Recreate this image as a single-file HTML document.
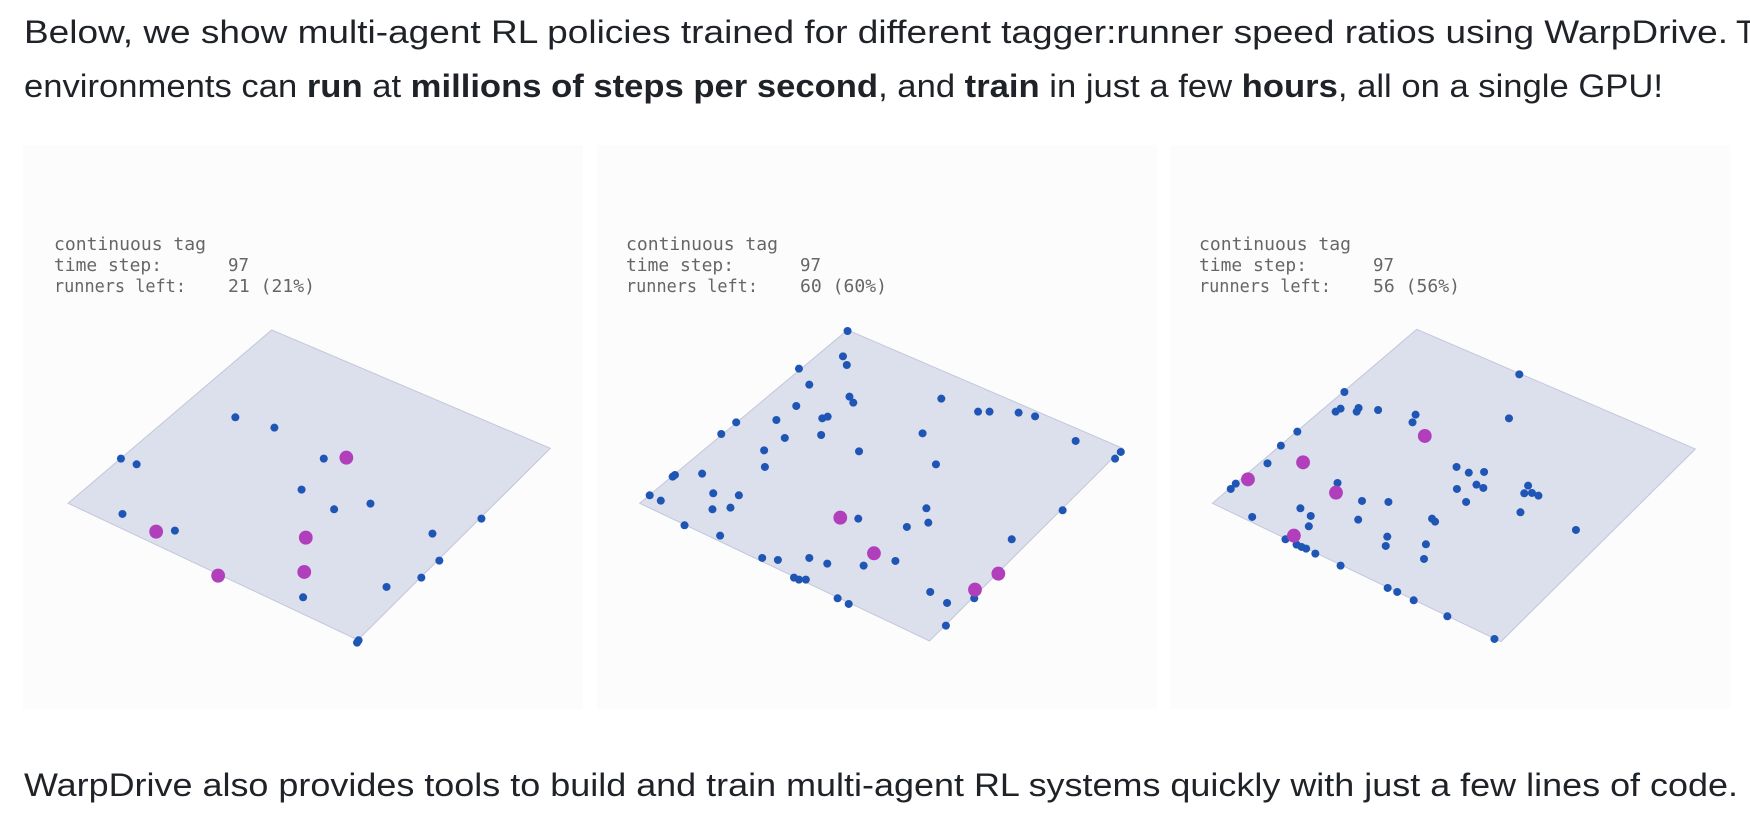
<!DOCTYPE html>
<html><head><meta charset="utf-8"><style>
html,body{margin:0;padding:0;background:#fff;width:1750px;height:814px;overflow:hidden}
svg{display:block}
.t{font-family:"Liberation Sans",sans-serif;font-size:32px;fill:#1f2328}
.m{font-family:"DejaVu Sans Mono","Liberation Mono",monospace;font-size:18px;fill:#666;white-space:pre}
</style></head><body>
<svg width="1750" height="814" viewBox="0 0 1750 814" xmlns="http://www.w3.org/2000/svg">
<text class="t" x="24" y="43" textLength="1704" lengthAdjust="spacingAndGlyphs">Below, we show multi-agent RL policies trained for different tagger:runner speed ratios using WarpDrive.</text>
<text class="t" x="1736" y="43">These</text>
<text class="t" x="24" y="97" textLength="1639" lengthAdjust="spacingAndGlyphs">environments can <tspan font-weight="bold">run</tspan> at <tspan font-weight="bold">millions of steps per second</tspan>, and <tspan font-weight="bold">train</tspan> in just a few <tspan font-weight="bold">hours</tspan>, all on a single GPU!</text>
<text class="t" x="24" y="796" textLength="1714" lengthAdjust="spacingAndGlyphs">WarpDrive also provides tools to build and train multi-agent RL systems quickly with just a few lines of code.</text>

<rect x="23" y="145" width="560" height="564" fill="#fcfcfc"/>
<rect x="597" y="145" width="560" height="564" fill="#fcfcfc"/>
<rect x="1170" y="145" width="560" height="564" fill="#fcfcfc"/>

<text class="m" x="54" y="250" textLength="152" lengthAdjust="spacingAndGlyphs">continuous tag</text>
<text class="m" x="54" y="271" textLength="108" lengthAdjust="spacingAndGlyphs">time step:</text>
<text class="m" x="54" y="292" textLength="132" lengthAdjust="spacingAndGlyphs">runners left:</text>
<text class="m" x="228" y="271" textLength="21" lengthAdjust="spacingAndGlyphs">97</text>
<text class="m" x="228" y="292" textLength="87" lengthAdjust="spacingAndGlyphs">21 (21%)</text>

<text class="m" x="626" y="250" textLength="152" lengthAdjust="spacingAndGlyphs">continuous tag</text>
<text class="m" x="626" y="271" textLength="108" lengthAdjust="spacingAndGlyphs">time step:</text>
<text class="m" x="626" y="292" textLength="132" lengthAdjust="spacingAndGlyphs">runners left:</text>
<text class="m" x="800" y="271" textLength="21" lengthAdjust="spacingAndGlyphs">97</text>
<text class="m" x="800" y="292" textLength="87" lengthAdjust="spacingAndGlyphs">60 (60%)</text>

<text class="m" x="1199" y="250" textLength="152" lengthAdjust="spacingAndGlyphs">continuous tag</text>
<text class="m" x="1199" y="271" textLength="108" lengthAdjust="spacingAndGlyphs">time step:</text>
<text class="m" x="1199" y="292" textLength="132" lengthAdjust="spacingAndGlyphs">runners left:</text>
<text class="m" x="1373" y="271" textLength="21" lengthAdjust="spacingAndGlyphs">97</text>
<text class="m" x="1373" y="292" textLength="87" lengthAdjust="spacingAndGlyphs">56 (56%)</text>

<g transform="translate(0,180) scale(0.3827,0.3333)">
<polygon points="710,450 1438,805 935,1380 178,970" fill="#dcdfec" stroke="#c3c8dc" stroke-width="3"/>
<g fill="#1f55b4">
<ellipse cx="615" cy="712" rx="10.5" ry="12"/><ellipse cx="717" cy="743" rx="10.5" ry="12"/><ellipse cx="316" cy="836" rx="10.5" ry="12"/><ellipse cx="357" cy="853" rx="10.5" ry="12"/><ellipse cx="846" cy="836" rx="10.5" ry="12"/><ellipse cx="788" cy="929" rx="10.5" ry="12"/><ellipse cx="873" cy="988" rx="10.5" ry="12"/><ellipse cx="968" cy="971" rx="10.5" ry="12"/><ellipse cx="320" cy="1002" rx="10.5" ry="12"/><ellipse cx="457" cy="1052" rx="10.5" ry="12"/><ellipse cx="1258" cy="1016" rx="10.5" ry="12"/><ellipse cx="1130" cy="1061" rx="10.5" ry="12"/><ellipse cx="1148" cy="1142" rx="10.5" ry="12"/><ellipse cx="1101" cy="1193" rx="10.5" ry="12"/><ellipse cx="1010" cy="1221" rx="10.5" ry="12"/><ellipse cx="792" cy="1252" rx="10.5" ry="12"/><ellipse cx="937" cy="1381" rx="10.5" ry="12"/><ellipse cx="933" cy="1388" rx="10.5" ry="12"/>
</g>
<g fill="#b13fbb">
<ellipse cx="905" cy="833" rx="18" ry="21"/><ellipse cx="408" cy="1055" rx="18" ry="21"/><ellipse cx="799" cy="1073" rx="18" ry="21"/><ellipse cx="570" cy="1187" rx="18" ry="21"/><ellipse cx="795" cy="1176" rx="18" ry="21"/>
</g></g>

<g transform="translate(590,280) scale(0.3827,0.3333)">
<polygon points="673,150 1392,505 887,1083 130,670" fill="#dcdfec" stroke="#c3c8dc" stroke-width="3"/>
<g fill="#1f55b4">
<ellipse cx="673" cy="153" rx="10.5" ry="12"/><ellipse cx="661" cy="229" rx="10.5" ry="12"/><ellipse cx="671" cy="255" rx="10.5" ry="12"/><ellipse cx="546" cy="266" rx="10.5" ry="12"/><ellipse cx="573" cy="314" rx="10.5" ry="12"/><ellipse cx="678" cy="350" rx="10.5" ry="12"/><ellipse cx="688" cy="368" rx="10.5" ry="12"/><ellipse cx="918" cy="356" rx="10.5" ry="12"/><ellipse cx="539" cy="378" rx="10.5" ry="12"/><ellipse cx="1014" cy="395" rx="10.5" ry="12"/><ellipse cx="1044" cy="395" rx="10.5" ry="12"/><ellipse cx="1120" cy="398" rx="10.5" ry="12"/><ellipse cx="1163" cy="409" rx="10.5" ry="12"/><ellipse cx="487" cy="420" rx="10.5" ry="12"/><ellipse cx="607" cy="415" rx="10.5" ry="12"/><ellipse cx="621" cy="410" rx="10.5" ry="12"/><ellipse cx="382" cy="427" rx="10.5" ry="12"/><ellipse cx="343" cy="462" rx="10.5" ry="12"/><ellipse cx="509" cy="474" rx="10.5" ry="12"/><ellipse cx="604" cy="465" rx="10.5" ry="12"/><ellipse cx="869" cy="460" rx="10.5" ry="12"/><ellipse cx="1269" cy="483" rx="10.5" ry="12"/><ellipse cx="1387" cy="516" rx="10.5" ry="12"/><ellipse cx="1372" cy="536" rx="10.5" ry="12"/><ellipse cx="455" cy="511" rx="10.5" ry="12"/><ellipse cx="703" cy="514" rx="10.5" ry="12"/><ellipse cx="457" cy="561" rx="10.5" ry="12"/><ellipse cx="904" cy="553" rx="10.5" ry="12"/><ellipse cx="216" cy="590" rx="10.5" ry="12"/><ellipse cx="222" cy="585" rx="10.5" ry="12"/><ellipse cx="293" cy="581" rx="10.5" ry="12"/><ellipse cx="156" cy="646" rx="10.5" ry="12"/><ellipse cx="185" cy="662" rx="10.5" ry="12"/><ellipse cx="322" cy="640" rx="10.5" ry="12"/><ellipse cx="389" cy="646" rx="10.5" ry="12"/><ellipse cx="320" cy="688" rx="10.5" ry="12"/><ellipse cx="367" cy="683" rx="10.5" ry="12"/><ellipse cx="879" cy="685" rx="10.5" ry="12"/><ellipse cx="884" cy="728" rx="10.5" ry="12"/><ellipse cx="1235" cy="691" rx="10.5" ry="12"/><ellipse cx="701" cy="716" rx="10.5" ry="12"/><ellipse cx="247" cy="736" rx="10.5" ry="12"/><ellipse cx="340" cy="767" rx="10.5" ry="12"/><ellipse cx="828" cy="741" rx="10.5" ry="12"/><ellipse cx="1102" cy="778" rx="10.5" ry="12"/><ellipse cx="450" cy="834" rx="10.5" ry="12"/><ellipse cx="491" cy="840" rx="10.5" ry="12"/><ellipse cx="573" cy="834" rx="10.5" ry="12"/><ellipse cx="620" cy="851" rx="10.5" ry="12"/><ellipse cx="715" cy="857" rx="10.5" ry="12"/><ellipse cx="798" cy="843" rx="10.5" ry="12"/><ellipse cx="533" cy="893" rx="10.5" ry="12"/><ellipse cx="546" cy="899" rx="10.5" ry="12"/><ellipse cx="564" cy="899" rx="10.5" ry="12"/><ellipse cx="889" cy="936" rx="10.5" ry="12"/><ellipse cx="647" cy="955" rx="10.5" ry="12"/><ellipse cx="676" cy="972" rx="10.5" ry="12"/><ellipse cx="933" cy="969" rx="10.5" ry="12"/><ellipse cx="1004" cy="955" rx="10.5" ry="12"/><ellipse cx="930" cy="1037" rx="10.5" ry="12"/>
</g>
<g fill="#b13fbb">
<ellipse cx="654" cy="713" rx="18" ry="21"/><ellipse cx="742" cy="820" rx="18" ry="21"/><ellipse cx="1067" cy="881" rx="18" ry="21"/><ellipse cx="1006" cy="929" rx="18" ry="21"/>
</g></g>

<g transform="translate(1150,280) scale(0.3827,0.3333)">
<polygon points="697,148 1425,507 917,1085 163,670" fill="#dcdfec" stroke="#c3c8dc" stroke-width="3"/>
<g fill="#1f55b4">
<ellipse cx="965" cy="283" rx="10.5" ry="12"/><ellipse cx="508" cy="336" rx="10.5" ry="12"/><ellipse cx="485" cy="395" rx="10.5" ry="12"/><ellipse cx="498" cy="386" rx="10.5" ry="12"/><ellipse cx="540" cy="395" rx="10.5" ry="12"/><ellipse cx="545" cy="384" rx="10.5" ry="12"/><ellipse cx="596" cy="390" rx="10.5" ry="12"/><ellipse cx="694" cy="404" rx="10.5" ry="12"/><ellipse cx="686" cy="427" rx="10.5" ry="12"/><ellipse cx="938" cy="415" rx="10.5" ry="12"/><ellipse cx="385" cy="455" rx="10.5" ry="12"/><ellipse cx="342" cy="497" rx="10.5" ry="12"/><ellipse cx="307" cy="550" rx="10.5" ry="12"/><ellipse cx="801" cy="561" rx="10.5" ry="12"/><ellipse cx="833" cy="578" rx="10.5" ry="12"/><ellipse cx="873" cy="576" rx="10.5" ry="12"/><ellipse cx="224" cy="611" rx="10.5" ry="12"/><ellipse cx="211" cy="627" rx="10.5" ry="12"/><ellipse cx="490" cy="609" rx="10.5" ry="12"/><ellipse cx="802" cy="627" rx="10.5" ry="12"/><ellipse cx="853" cy="614" rx="10.5" ry="12"/><ellipse cx="871" cy="624" rx="10.5" ry="12"/><ellipse cx="988" cy="617" rx="10.5" ry="12"/><ellipse cx="978" cy="640" rx="10.5" ry="12"/><ellipse cx="998" cy="639" rx="10.5" ry="12"/><ellipse cx="1015" cy="647" rx="10.5" ry="12"/><ellipse cx="554" cy="663" rx="10.5" ry="12"/><ellipse cx="623" cy="666" rx="10.5" ry="12"/><ellipse cx="826" cy="666" rx="10.5" ry="12"/><ellipse cx="968" cy="697" rx="10.5" ry="12"/><ellipse cx="393" cy="685" rx="10.5" ry="12"/><ellipse cx="420" cy="708" rx="10.5" ry="12"/><ellipse cx="267" cy="711" rx="10.5" ry="12"/><ellipse cx="544" cy="719" rx="10.5" ry="12"/><ellipse cx="737" cy="716" rx="10.5" ry="12"/><ellipse cx="745" cy="725" rx="10.5" ry="12"/><ellipse cx="415" cy="739" rx="10.5" ry="12"/><ellipse cx="1113" cy="750" rx="10.5" ry="12"/><ellipse cx="620" cy="770" rx="10.5" ry="12"/><ellipse cx="616" cy="798" rx="10.5" ry="12"/><ellipse cx="721" cy="793" rx="10.5" ry="12"/><ellipse cx="354" cy="778" rx="10.5" ry="12"/><ellipse cx="383" cy="794" rx="10.5" ry="12"/><ellipse cx="396" cy="801" rx="10.5" ry="12"/><ellipse cx="408" cy="806" rx="10.5" ry="12"/><ellipse cx="432" cy="821" rx="10.5" ry="12"/><ellipse cx="716" cy="837" rx="10.5" ry="12"/><ellipse cx="498" cy="857" rx="10.5" ry="12"/><ellipse cx="621" cy="924" rx="10.5" ry="12"/><ellipse cx="646" cy="936" rx="10.5" ry="12"/><ellipse cx="689" cy="961" rx="10.5" ry="12"/><ellipse cx="777" cy="1009" rx="10.5" ry="12"/><ellipse cx="900" cy="1077" rx="10.5" ry="12"/>
</g>
<g fill="#b13fbb">
<ellipse cx="718" cy="468" rx="18" ry="21"/><ellipse cx="400" cy="547" rx="18" ry="21"/><ellipse cx="256" cy="598" rx="18" ry="21"/><ellipse cx="486" cy="638" rx="18" ry="21"/><ellipse cx="376" cy="767" rx="18" ry="21"/>
</g></g>
</svg>
</body></html>
